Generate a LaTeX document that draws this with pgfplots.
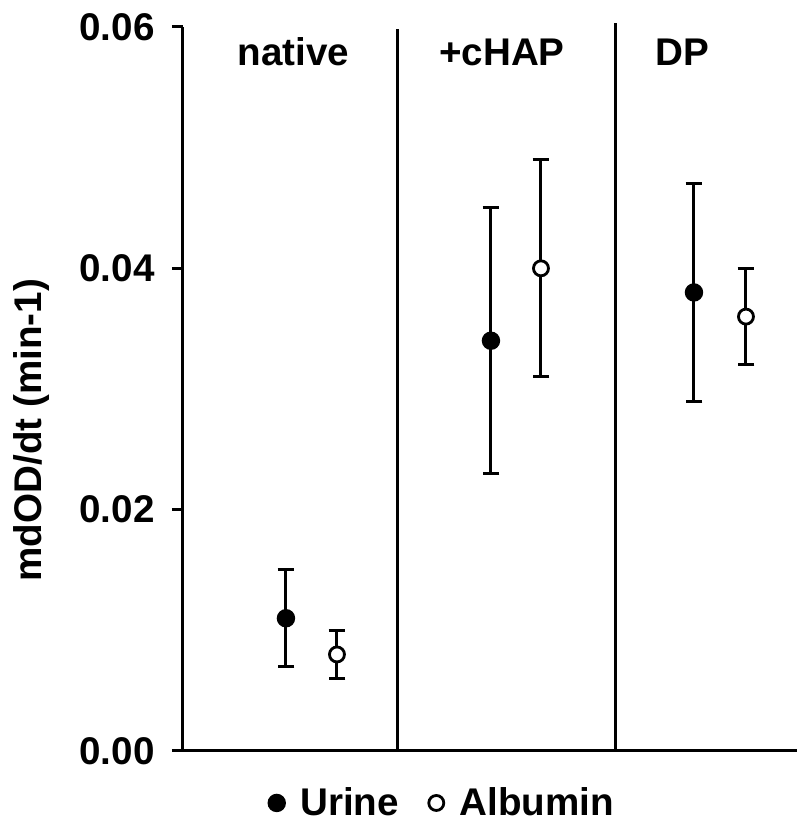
\documentclass[border=0pt]{standalone}
\usepackage{pgfplots}
\pgfplotsset{compat=1.18}
\usepackage{fontspec}
\setmainfont{Liberation Sans}
\newcommand{\ff}{\fontsize{19.3}{23}\selectfont\bfseries}
\begin{document}
\begin{tikzpicture}
\begin{axis}[
  scale only axis,
  width=307pt, height=362pt,
  xmin=183, xmax=797,
  ymin=0, ymax=0.06,
  axis lines*=left,
  axis line style={line width=1.5pt, black},
  clip=false,
  xtick=\empty,
  ytick={0,0.02,0.04,0.06},
  tick align=outside,
  major tick length=5.5pt,
  tick style={line width=1.5pt, black},
  yticklabel style={/pgf/number format/.cd, fixed, fixed zerofill, precision=2, assume math mode=true},
  every tick label/.append style={font=\ff, inner sep=0pt, xshift=-8.5pt},
  scaled y ticks=false,
  ylabel={mdOD/dt (min-1)},
  ylabel style={font=\ff, at={(axis description cs:-0.2296,0.443)}, anchor=base},
  legend columns=2,
  legend image code/.code={\draw[#1] plot coordinates {(0pt,0pt)};},
  legend style={draw=none, fill=none, font=\ff,
    at={(axis description cs:0.421,-0.0718)}, anchor=center,
    nodes={inner sep=0pt},
    /tikz/every odd column/.append style={column sep=7.9pt},
    /tikz/every even column/.append style={column sep=14.9pt}},
]
% separators
\addplot[line width=1.5pt, black, forget plot] coordinates {(398,0) (398,0.05983)};
\addplot[line width=1.5pt, black, forget plot] coordinates {(616,0) (616,0.06033)};
% Urine
\addplot[only marks, mark=*, black,
  mark options={mark size=3.9pt, line width=1.4pt, fill=black, draw=black},
  error bars/.cd, y dir=both, y explicit,
  error bar style={line width=1.5pt, black},
  error mark=-,
  error mark options={rotate=90, mark size=4.2pt, line width=1.5pt, black}]
  table[x=x, y=y, y error plus=ep, y error minus=em] {
x y ep em
286 0.011 0.004 0.004
491 0.034 0.011 0.011
694 0.038 0.009 0.009
};
\addlegendentry{Urine}
% Albumin
\addplot[only marks, mark=*, black,
  mark options={mark size=3.75pt, line width=1.4pt, fill=white, draw=black},
  error bars/.cd, y dir=both, y explicit,
  error bar style={line width=1.5pt, black},
  error mark=-,
  error mark options={rotate=90, mark size=4.2pt, line width=1.5pt, black}]
  table[x=x, y=y, y error plus=ep, y error minus=em] {
x y ep em
337 0.008 0.002 0.002
541 0.040 0.009 0.009
746 0.036 0.004 0.004
};
\addlegendentry{Albumin}
\node[font=\ff, anchor=base] at (axis cs:293.5,0.05685) {native};
\node[font=\ff, anchor=base] at (axis cs:502,0.05685) {+cHAP};
\node[font=\ff, anchor=base] at (axis cs:682.5,0.05685) {DP};
\path (axis description cs:-0.298,-0.1119) rectangle (axis description cs:1.0016,1.0373);
\end{axis}
\end{tikzpicture}
\end{document}
